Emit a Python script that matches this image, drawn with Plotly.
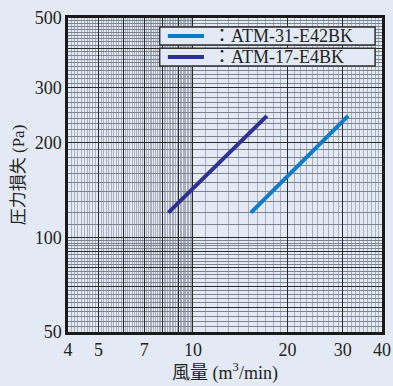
import numpy as np
import plotly.graph_objects as go

# Data
series_names = ["ATM-31-E42BK", "ATM-17-E4BK"]
series_colors = ["#0b7cc6", "#2e3192"]
flow_31 = [15.3, 31.2]
pres_31 = [120, 244]
flow_17 = [8.35, 17.2]
pres_17 = [120, 244]
x_tickvals = [4, 5, 6, 7, 8, 9, 10, 20, 30, 40]
x_ticktext = ["4", "5", "", "7", "", "", "10", "20", "30", "40"]
y_tickvals = [50, 60, 70, 80, 90, 100, 200, 300, 400, 500]
y_ticktext = ["50", "", "", "", "", "100", "200", "300", "", "500"]

x_minor = [round(v, 2) for v in np.arange(4.1, 10.0, 0.1) if abs(v - round(v)) > 1e-6] + \
          [v for v in range(11, 40) if v not in (20, 30)]
y_minor = [v for v in range(52, 100, 2) if v % 10 != 0] + \
          [v for v in range(110, 500, 10) if v not in (200, 300, 400)]

BG = "#e3eaf6"
SERIF = "Liberation Serif, DejaVu Serif, Noto Sans CJK JP"
TXT = "#222222"

fig = go.Figure()
fig.add_trace(go.Scatter(x=flow_31, y=pres_31, mode="lines", name=series_names[0],
                         line=dict(color=series_colors[0], width=4), showlegend=False))
fig.add_trace(go.Scatter(x=flow_17, y=pres_17, mode="lines", name=series_names[1],
                         line=dict(color=series_colors[1], width=4), showlegend=False))

# legend drawn as boxes (paper coordinates)
shapes = []
annotations = []
box_tops = [0.971, 0.904]
box_h = 0.057
for i, (nm, col) in enumerate(zip(series_names, series_colors)):
    top = box_tops[i]
    bot = top - box_h
    mid = (top + bot) / 2
    shapes.append(dict(type="rect", xref="paper", yref="paper",
                       x0=0.292, x1=0.978, y0=bot, y1=top,
                       fillcolor=BG, line=dict(color="#333333", width=1.5), layer="above"))
    shapes.append(dict(type="line", xref="paper", yref="paper",
                       x0=0.318, x1=0.433, y0=mid, y1=mid,
                       line=dict(color=col, width=4), layer="above"))
    annotations.append(dict(xref="paper", yref="paper", x=0.455, y=mid,
                            xanchor="left", yanchor="middle", showarrow=False,
                            text="：" + nm,
                            font=dict(family=SERIF, size=18, color=TXT)))

fig.update_layout(
    width=393, height=386,
    paper_bgcolor=BG, plot_bgcolor=BG,
    margin=dict(l=68, r=11, t=18, b=54),
    showlegend=False,
    shapes=shapes, annotations=annotations,
    font=dict(family=SERIF, color=TXT),
)

fig.update_xaxes(
    type="log", range=[np.log10(4), np.log10(40)], automargin=False,
    tickmode="array", tickvals=x_tickvals, ticktext=x_ticktext,
    ticks="", tickfont=dict(family=SERIF, size=18, color=TXT),
    showgrid=True, gridcolor="#2a2a2a", gridwidth=1.2,
    minor=dict(tickmode="array", tickvals=x_minor, showgrid=True,
               gridcolor="#aab0bb", gridwidth=0.6, ticks=""),
    showline=True, linecolor="#1a1a1a", linewidth=2.5, mirror=True,
    zeroline=False,
    title=dict(text="風量 (m<sup>3</sup>/min)", font=dict(family=SERIF, size=18, color=TXT),
               standoff=6),
)
fig.update_yaxes(
    type="log", range=[np.log10(50), np.log10(500)], automargin=False,
    tickmode="array", tickvals=y_tickvals, ticktext=y_ticktext,
    ticks="", tickfont=dict(family=SERIF, size=18, color=TXT),
    showgrid=True, gridcolor="#2a2a2a", gridwidth=1.2,
    minor=dict(tickmode="array", tickvals=y_minor, showgrid=True,
               gridcolor="#7d838d", gridwidth=0.8, ticks=""),
    showline=True, linecolor="#1a1a1a", linewidth=2.5, mirror=True,
    zeroline=False,
    title=dict(text="圧力損失 (Pa)", font=dict(family=SERIF, size=17, color=TXT),
               standoff=6),
)

fig.write_html("out.html", config={"displayModeBar": False},
               post_script="document.body.style.margin='0';document.body.style.background='" + BG + "';")
